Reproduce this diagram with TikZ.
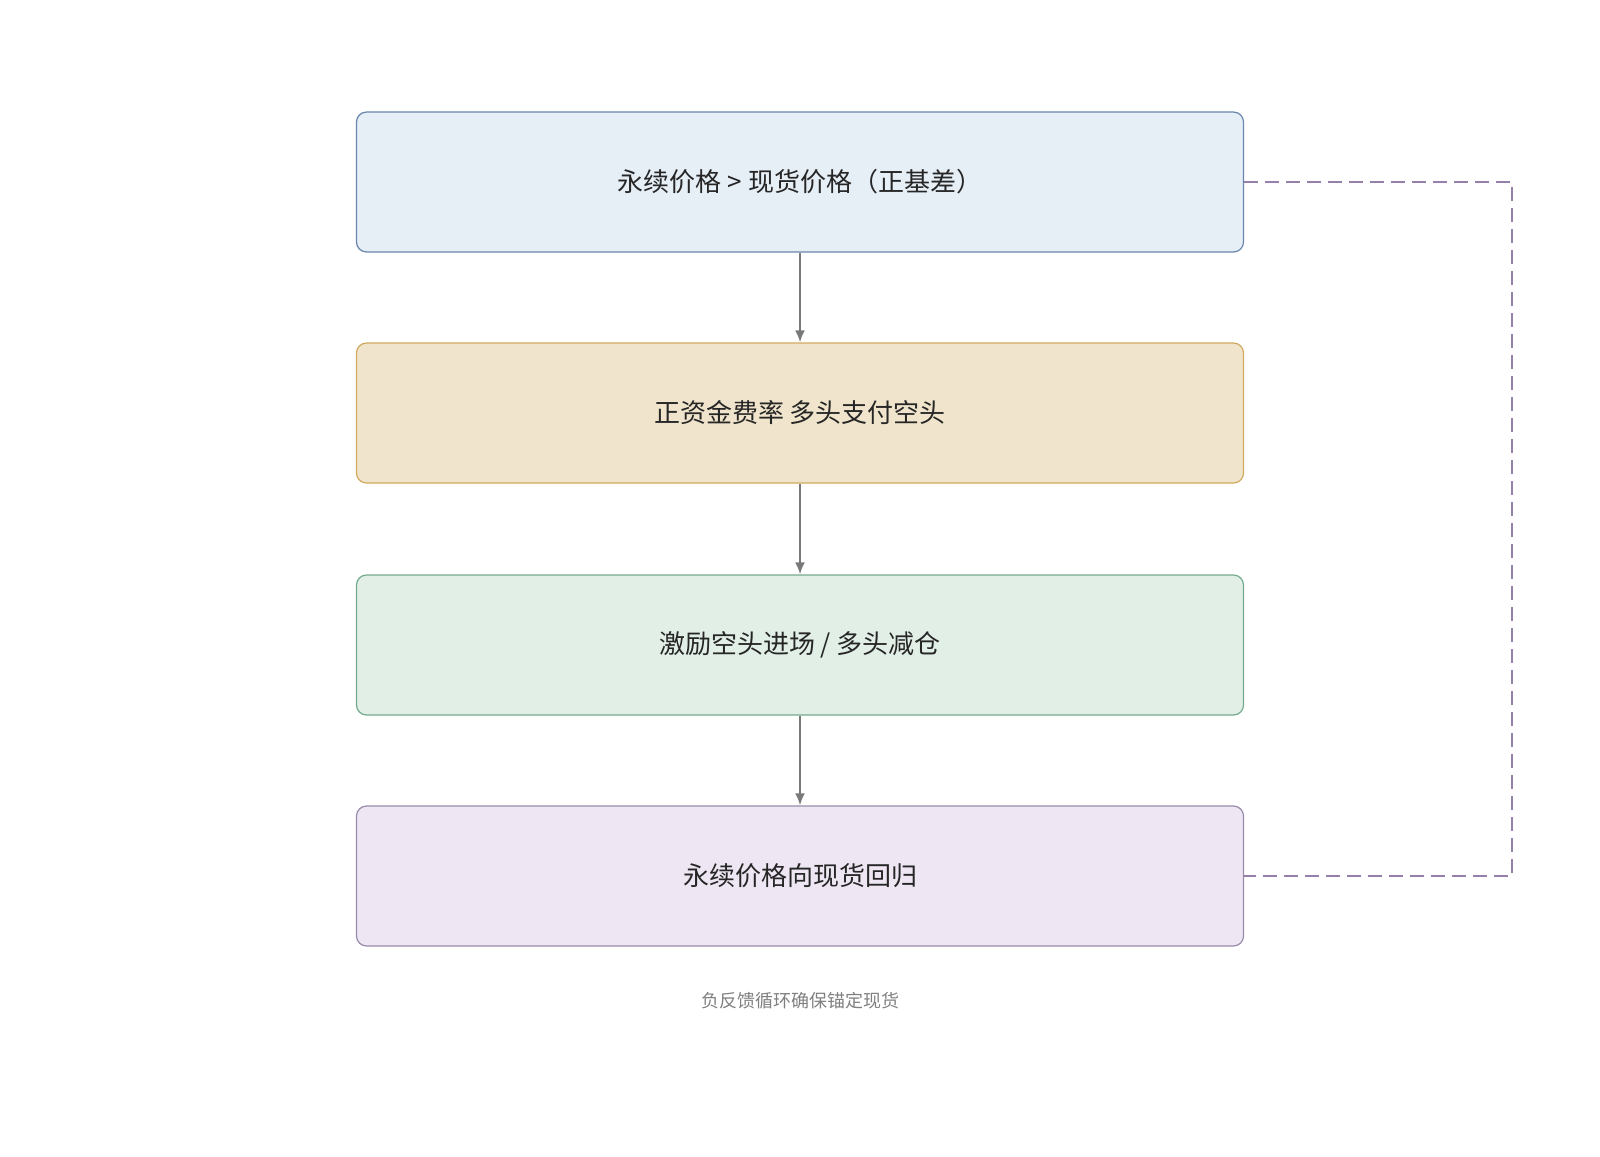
\documentclass[tikz,border=0pt]{standalone}
\usepackage{fontspec}
\setmainfont{Noto Sans CJK SC}
\begin{document}
\begin{tikzpicture}[x=0.5pt,y=-0.5pt,
 box/.style={draw,rounded corners=5pt,line width=0.6pt,minimum width=443.5pt,minimum height=70pt,font=\fontsize{13}{15}\selectfont,text=black!85},
 arr/.style={draw=gray!95!black,line width=1.1pt,-{Latex[length=6pt,width=5pt]}}]
\usetikzlibrary{arrows.meta}
\useasboundingbox (0,0) rectangle (1600,1156);
\definecolor{b1}{HTML}{E6EEF6}\definecolor{d1}{HTML}{6A86AC}
\definecolor{b2}{HTML}{F0E5CC}\definecolor{d2}{HTML}{D1AA5E}
\definecolor{b3}{HTML}{E1EFE7}\definecolor{d3}{HTML}{74AB8C}
\definecolor{b4}{HTML}{EEE7F3}\definecolor{d4}{HTML}{9A8AAD}
\definecolor{dl}{HTML}{9480A8}
\node[box,fill=b1,draw=d1] (n1) at (800,182) {永续价格 > 现货价格（正基差）};
\node[box,fill=b2,draw=d2] (n2) at (800,413) {正资金费率 多头支付空头};
\node[box,fill=b3,draw=d3] (n3) at (800,645) {激励空头进场 / 多头减仓};
\node[box,fill=b4,draw=d4] (n4) at (800,876) {永续价格向现货回归};
\draw[arr] (n1) -- (n2);
\draw[arr] (n2) -- (n3);
\draw[arr] (n3) -- (n4);
\coordinate (c1) at (1512,182);
\coordinate (c2) at (1512,876);
\draw[dl,line width=1.3pt,dash pattern=on 7pt off 3.5pt] (n1.east) -- (c1) -- (c2) -- (n4.east);
\node[font=\fontsize{9}{11}\selectfont,text=gray] (cap) at (800,1001) {负反馈循环确保锚定现货};
\end{tikzpicture}
\end{document}
